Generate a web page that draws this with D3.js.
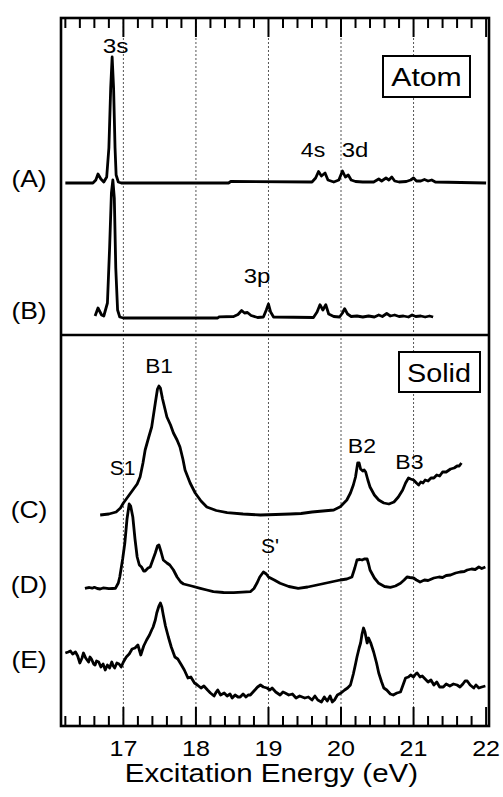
<!DOCTYPE html>
<html>
<head>
<meta charset="utf-8">
<script src="https://cdn.jsdelivr.net/npm/d3@7"></script>
<style>
  body { margin: 0; background: #fff; }
  text { font-family: Arial, "Liberation Sans", sans-serif; fill: #000; }
</style>
</head>
<body>
<div id="chart"></div>
<script>
// energies in eV, intensities in arbitrary units above each trace baseline
var traceA = [[16.2,0],[16.58,0],[16.62,0.3],[16.65,0.9],[16.69,0.4],[16.73,0.1],[16.77,0.6],[16.8,3.5],[16.825,9.5],[16.845,12.6],[16.865,9.5],[16.885,3.5],[16.9,0.8],[16.93,0.1],[16.97,0],[18.45,0],[18.48,0.15],[19.6,0.1],[19.65,0.5],[19.69,1.15],[19.73,0.7],[19.78,1.0],[19.82,0.3],[19.9,0.1],[19.97,0.3],[20.02,1.2],[20.06,0.6],[20.1,0.8],[20.14,0.3],[20.2,0.15],[20.3,0.1],[20.45,0.1],[20.52,0.4],[20.56,0.2],[20.62,0.5],[20.66,0.3],[20.7,0.6],[20.74,0.2],[20.8,0.1],[20.9,0.15],[20.96,0.3],[21.0,0.5],[21.04,0.2],[21.1,0.2],[21.15,0.35],[21.2,0.2],[21.25,0.3],[21.3,0.1],[22.0,0]];
var traceB = [[16.61,0.2],[16.65,1.0],[16.7,0.3],[16.73,0.2],[16.78,1.5],[16.81,7],[16.835,12.5],[16.855,13.8],[16.875,12],[16.895,5],[16.92,0.8],[16.95,0.1],[17.0,0],[18.3,0],[18.32,0.12],[18.52,0.15],[18.58,0.35],[18.63,0.75],[18.67,0.5],[18.71,0.55],[18.76,0.25],[18.85,0.05],[18.93,0.1],[18.97,0.8],[19.0,1.4],[19.03,0.6],[19.07,0.1],[19.62,0.05],[19.67,0.6],[19.71,1.33],[19.75,0.8],[19.79,1.33],[19.83,0.4],[19.9,0.15],[19.98,0.1],[20.02,0.5],[20.05,0.93],[20.09,0.4],[20.14,0.15],[20.22,0.2],[20.3,0.1],[20.38,0.2],[20.46,0.1],[20.52,0.3],[20.57,0.15],[20.63,0.45],[20.68,0.2],[20.74,0.3],[20.8,0.15],[20.86,0.2],[20.93,0.1],[20.98,0.3],[21.03,0.15],[21.1,0.2],[21.16,0.1],[21.22,0.2],[21.27,0.1]];
var traceC = [[16.68,0],[16.8,0.1],[16.9,0.3],[16.96,0.7],[17.0,1.2],[17.08,2.0],[17.14,2.6],[17.19,3.1],[17.23,3.8],[17.27,5.2],[17.3,6.5],[17.35,7.8],[17.39,8.8],[17.44,11.2],[17.47,12.6],[17.49,12.9],[17.51,12.7],[17.54,11.6],[17.6,9.8],[17.65,9.0],[17.69,8.2],[17.74,7.5],[17.78,6.8],[17.82,5.6],[17.85,4.5],[17.92,3.2],[17.99,2.2],[18.07,1.4],[18.15,0.8],[18.28,0.45],[18.43,0.23],[18.65,0.1],[18.89,0],[19.1,0.05],[19.3,0.1],[19.45,0.15],[19.6,0.3],[19.75,0.4],[19.9,0.5],[19.99,0.83],[20.08,1.5],[20.13,2.2],[20.17,3.0],[20.2,3.8],[20.23,5.2],[20.25,5.2],[20.27,4.6],[20.3,4.4],[20.32,4.5],[20.34,4.3],[20.37,3.5],[20.4,2.8],[20.46,2.0],[20.52,1.5],[20.59,1.2],[20.66,1.1],[20.73,1.3],[20.79,1.8],[20.85,2.5],[20.89,3.2],[20.93,3.7],[20.96,3.6],[21.0,3.5],[21.04,3.2],[21.07,3.0],[21.1,3.3],[21.13,3.2],[21.16,3.5],[21.2,3.4],[21.24,3.7],[21.28,3.7],[21.32,4.0],[21.36,3.9],[21.4,4.3],[21.45,4.3],[21.51,4.6],[21.56,4.7],[21.6,4.9],[21.63,4.9],[21.66,5.2]];
var traceD = [[16.47,0.37],[16.5,0.42],[16.53,0.45],[16.57,0.38],[16.6,0.47],[16.64,0.35],[16.68,0.3],[16.72,0.4],[16.75,0.38],[16.8,0.33],[16.85,0.35],[16.89,0.37],[16.93,0.9],[16.95,1.5],[16.99,3.3],[17.02,4.9],[17.05,7.3],[17.08,8.8],[17.1,8.6],[17.13,7.5],[17.16,5.3],[17.19,3.5],[17.22,2.7],[17.25,2.5],[17.28,2.1],[17.3,2.1],[17.34,2.4],[17.37,2.5],[17.41,3.3],[17.44,3.9],[17.47,4.6],[17.49,4.7],[17.52,4.0],[17.55,3.2],[17.6,2.9],[17.64,2.7],[17.69,2.2],[17.74,1.5],[17.79,1.0],[17.83,0.8],[17.94,0.6],[18.06,0.37],[18.15,0.2],[18.24,0.03],[18.38,-0.05],[18.52,-0.07],[18.64,-0.02],[18.75,0.03],[18.8,0.35],[18.84,0.87],[18.88,1.5],[18.93,2.0],[18.97,1.8],[19.0,1.5],[19.08,1.2],[19.16,0.87],[19.28,0.55],[19.41,0.37],[19.54,0.5],[19.67,0.7],[19.83,0.95],[19.99,1.2],[20.08,1.3],[20.15,1.5],[20.19,2.4],[20.22,3.2],[20.26,3.25],[20.29,3.2],[20.32,3.3],[20.36,3.3],[20.38,2.8],[20.4,2.2],[20.46,1.4],[20.52,0.87],[20.6,0.55],[20.68,0.47],[20.75,0.6],[20.82,0.87],[20.87,1.2],[20.91,1.5],[20.95,1.45],[21.0,1.4],[21.04,1.2],[21.09,1.0],[21.15,1.2],[21.2,1.15],[21.28,1.4],[21.35,1.5],[21.4,1.45],[21.45,1.65],[21.51,1.7],[21.58,1.9],[21.64,2.0],[21.7,2.05],[21.74,2.2],[21.8,2.3],[21.85,2.25],[21.9,2.5],[21.94,2.35],[21.99,2.5]];
var traceE = [[16.2,4.7],[16.24,4.8],[16.27,4.9],[16.3,4.6],[16.34,4.8],[16.37,4.4],[16.4,3.7],[16.43,4.2],[16.45,4.7],[16.48,4.2],[16.52,3.8],[16.54,4.3],[16.56,4.1],[16.59,3.6],[16.61,3.5],[16.63,3.9],[16.66,3.8],[16.69,3.3],[16.72,3.6],[16.75,3.0],[16.78,3.5],[16.81,3.2],[16.84,3.8],[16.86,3.4],[16.88,3.2],[16.91,3.7],[16.94,3.6],[16.97,3.3],[17.0,3.8],[17.04,4.3],[17.08,4.6],[17.12,5.1],[17.16,5.2],[17.2,5.5],[17.24,4.5],[17.28,5.4],[17.32,6.0],[17.36,6.5],[17.39,7.0],[17.41,7.3],[17.44,8.0],[17.46,8.7],[17.49,9.4],[17.51,9.7],[17.53,9.3],[17.55,8.5],[17.58,7.4],[17.62,6.3],[17.66,5.3],[17.71,4.3],[17.75,4.1],[17.8,3.5],[17.84,3.0],[17.89,2.2],[17.93,2.3],[17.98,1.7],[18.02,1.5],[18.07,1.2],[18.11,1.4],[18.16,1.0],[18.2,0.7],[18.25,0.4],[18.28,0.8],[18.3,1.0],[18.34,0.5],[18.39,0.7],[18.43,0.4],[18.47,0.6],[18.5,0.2],[18.54,0.5],[18.58,0.3],[18.61,0.3],[18.65,0.6],[18.69,0.3],[18.72,0.5],[18.75,0.5],[18.8,0.9],[18.85,1.3],[18.89,1.5],[18.93,1.3],[18.98,1.2],[19.02,1.0],[19.05,1.2],[19.1,0.8],[19.16,0.5],[19.2,0.8],[19.23,0.7],[19.28,0.5],[19.33,0.6],[19.38,0.2],[19.43,0.4],[19.5,0.2],[19.55,0.3],[19.6,0.0],[19.64,0.4],[19.68,0.0],[19.73,-0.2],[19.77,0.3],[19.81,-0.1],[19.85,0.4],[19.88,-0.2],[19.91,0.0],[19.95,0.5],[20.0,0.7],[20.05,1.0],[20.09,1.2],[20.13,1.5],[20.17,2.6],[20.2,3.6],[20.22,4.3],[20.25,5.2],[20.27,5.7],[20.29,6.6],[20.31,7.2],[20.33,6.8],[20.36,5.7],[20.38,6.2],[20.41,5.7],[20.45,4.8],[20.49,3.7],[20.52,2.7],[20.56,1.8],[20.59,1.2],[20.63,1.0],[20.68,0.6],[20.72,0.5],[20.77,0.7],[20.82,0.8],[20.86,1.6],[20.89,2.2],[20.93,2.3],[20.96,2.5],[21.0,2.3],[21.03,2.6],[21.05,2.7],[21.09,2.3],[21.12,2.4],[21.16,2.1],[21.2,1.8],[21.24,2.0],[21.28,1.5],[21.32,1.8],[21.36,1.3],[21.41,1.3],[21.45,1.6],[21.5,1.4],[21.55,1.6],[21.6,1.5],[21.64,1.3],[21.68,1.6],[21.71,1.9],[21.74,1.9],[21.78,1.5],[21.83,1.2],[21.86,1.5],[21.9,1.2],[21.94,1.3],[21.99,1.4]];

var atomOffsets = [15.2, 1.7];       // baselines of (A), (B)
var solidOffsets = [21.1, 13.4, 2.6]; // baselines of (C), (D), (E)
var traceNames = ["(A)", "(B)", "(C)", "(D)", "(E)"];
var xTicks = [17, 18, 19, 20, 21, 22];

var W = 503, H = 797;
var frame = {left: 61, right: 489, top: 18, bottom: 726, split: 335};

var svg = d3.select("#chart").append("svg")
	.attr("width", W)
	.attr("height", H);

var x = d3.scaleLinear().domain([16.14, 22.04]).range([frame.left, frame.right]);
var yAtom = d3.scaleLinear().domain([0, (frame.split - frame.top)/10]).range([frame.split, frame.top]);
var ySolid = d3.scaleLinear().domain([0, (frame.bottom - frame.split)/10]).range([frame.bottom, frame.split]);

// text in the figure is drawn a bit wide, so stretch it horizontally
function label(g, tx, ty, str, size, sx){
	return g.append("text")
		.attr("transform", `translate(${tx},${ty}) scale(${sx || 1.12},1)`)
		.attr("text-anchor", "middle")
		.style("font-size", size + "px")
		.text(str);
}

// dotted grid lines
svg.append("g").selectAll("line")
	.data(xTicks.slice(0, 5))
	.enter().append("line")
	.attr("x1", d => x(d)).attr("x2", d => x(d))
	.attr("y1", frame.top).attr("y2", frame.bottom)
	.attr("stroke", "#555")
	.attr("stroke-width", 1)
	.attr("stroke-dasharray", "2,2");

// ticks, inward at top and bottom
var minor = d3.range(81, 111).map(i => i/5).filter(v => Math.abs(v - Math.round(v)) > 1e-6);
var tg = svg.append("g").attr("stroke", "#000").attr("stroke-width", 2);
[[frame.top, 1], [frame.bottom, -1]].forEach(function(p){
	tg.selectAll(null).data(minor).enter().append("line")
		.attr("x1", d => x(d)).attr("x2", d => x(d))
		.attr("y1", p[0]).attr("y2", p[0] + p[1]*10);
	tg.selectAll(null).data(xTicks).enter().append("line")
		.attr("x1", d => x(d)).attr("x2", d => x(d))
		.attr("y1", p[0]).attr("y2", p[0] + p[1]*19);
});

// frame and divider
svg.append("rect")
	.attr("x", frame.left).attr("y", frame.top)
	.attr("width", frame.right - frame.left).attr("height", frame.bottom - frame.top)
	.attr("fill", "none").attr("stroke", "#000").attr("stroke-width", 2.6);
svg.append("line")
	.attr("x1", frame.left).attr("x2", frame.right)
	.attr("y1", frame.split).attr("y2", frame.split)
	.attr("stroke", "#000").attr("stroke-width", 2.6);

// traces
var traces = [
	{data: traceA, y: yAtom, off: atomOffsets[0]},
	{data: traceB, y: yAtom, off: atomOffsets[1]},
	{data: traceC, y: ySolid, off: solidOffsets[0]},
	{data: traceD, y: ySolid, off: solidOffsets[1]},
	{data: traceE, y: ySolid, off: solidOffsets[2]}
];
traces.forEach(function(t){
	var line = d3.line()
		.x(d => x(d[0]))
		.y(d => t.y(d[1] + t.off));
	svg.append("path")
		.attr("d", line(t.data))
		.attr("fill", "none")
		.attr("stroke", "#000")
		.attr("stroke-width", 2.8)
		.attr("stroke-linejoin", "round");
});

// trace names on the left (text baselines)
var nameY = [yAtom(atomOffsets[0]) + 4, yAtom(atomOffsets[1]) + 1, ySolid(solidOffsets[0]) + 3, ySolid(solidOffsets[1]) + 1, ySolid(solidOffsets[2]) - 32];
traceNames.forEach((n, i) => label(svg, 29, nameY[i], n, 23, 1.15));

// peak labels
label(svg, 115.5, 53, "3s", 21, 1.16);
label(svg, 313, 157, "4s", 21, 1.1);
label(svg, 355, 157, "3d", 21, 1.14);
label(svg, 257, 283, "3p", 21, 1.14);
label(svg, 159, 373, "B1", 21, 1.08);
label(svg, 122.5, 475, "S1", 21, 1.0);
label(svg, 362, 453, "B2", 21, 1.1);
label(svg, 409.5, 469, "B3", 21, 1.1);
label(svg, 270, 553, "S'", 21, 1.0);

// Atom / Solid boxes
svg.append("rect").attr("x", 383).attr("y", 56).attr("width", 87).attr("height", 41)
	.attr("fill", "#fff").attr("stroke", "#000").attr("stroke-width", 2);
label(svg, 426.5, 86, "Atom", 25, 1.21);
svg.append("rect").attr("x", 399).attr("y", 352).attr("width", 81).attr("height", 40)
	.attr("fill", "#fff").attr("stroke", "#000").attr("stroke-width", 2);
label(svg, 439, 382, "Solid", 25, 1.15);

// axis labels
xTicks.forEach(v => label(svg, x(v), 756, String(v), 22, 1.14));
label(svg, x(19.04), 782, "Excitation Energy (eV)", 25, 1.18);
</script>
</body>
</html>
